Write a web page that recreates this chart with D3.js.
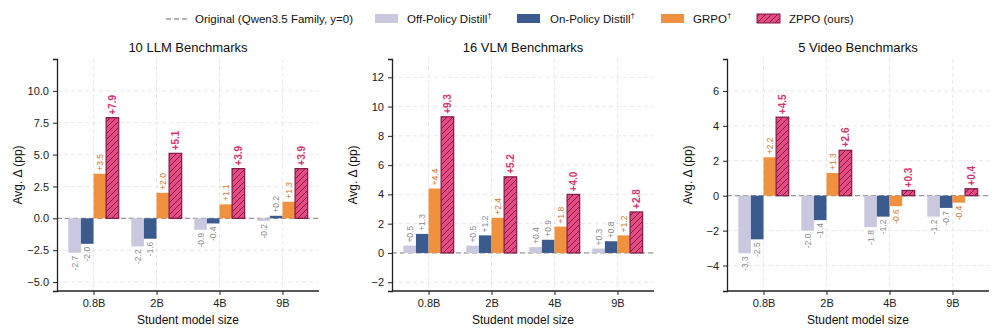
<!DOCTYPE html>
<html>
<head>
<meta charset="utf-8">
<script src="https://cdn.jsdelivr.net/npm/d3@7"></script>
<style>
  body { margin: 0; background: #fff; }
  svg { font-family: "Liberation Sans", Arial, sans-serif; }
</style>
</head>
<body>
<div id="chart"></div>
<script>
const sizes = ["0.8B", "2B", "4B", "9B"];
const seriesNames = ["Off-Policy Distill", "On-Policy Distill", "GRPO", "ZPPO (ours)"];

const llmOff = [-2.7, -2.2, -0.9, -0.2];
const llmOn = [-2.0, -1.6, -0.4, 0.2];
const llmGrpo = [3.5, 2.0, 1.1, 1.3];
const llmZppo = [7.9, 5.1, 3.9, 3.9];

const vlmOff = [0.5, 0.5, 0.4, 0.3];
const vlmOn = [1.3, 1.2, 0.9, 0.8];
const vlmGrpo = [4.4, 2.4, 1.8, 1.2];
const vlmZppo = [9.3, 5.2, 4.0, 2.8];

const vidOff = [-3.3, -2.0, -1.8, -1.2];
const vidOn = [-2.5, -1.4, -1.2, -0.7];
const vidGrpo = [2.2, 1.3, -0.6, -0.4];
const vidZppo = [4.5, 2.6, 0.3, 0.4];

const llmTicks = [-5, -2.5, 0, 2.5, 5, 7.5, 10];
const vlmTicks = [-2, 0, 2, 4, 6, 8, 10, 12];
const vidTicks = [-4, -2, 0, 2, 4, 6];

const panels = [
  { title: "10 LLM Benchmarks", data: [llmOff, llmOn, llmGrpo, llmZppo], ticks: llmTicks, fmt: d3.format(".1f"), dom: [-5.7, 12.5], left: 57 },
  { title: "16 VLM Benchmarks", data: [vlmOff, vlmOn, vlmGrpo, vlmZppo], ticks: vlmTicks, fmt: d3.format("d"), dom: [-2.6, 13.25], left: 392 },
  { title: "5 Video Benchmarks", data: [vidOff, vidOn, vidGrpo, vidZppo], ticks: vidTicks, fmt: d3.format("d"), dom: [-5.46, 7.83], left: 727 }
];

const colors = ["#c9c8de", "#3b5b8e", "#f09140", "#e84a82"];
const labelColors = ["#8a8a8a", "#8a8a8a", "#d2762e", "#d6336f"];

const W = 997, H = 335;
const svg = d3.select("#chart").append("svg").attr("width", W).attr("height", H);

const defs = svg.append("defs");
const pat = defs.append("pattern")
  .attr("id", "hatch")
  .attr("patternUnits", "userSpaceOnUse")
  .attr("width", 6).attr("height", 6);
pat.append("rect").attr("width", 6).attr("height", 6).attr("fill", colors[3]);
pat.append("path")
  .attr("d", "M-1,7 L7,-1 M-4,4 L4,-4 M2,10 L10,2")
  .attr("stroke", "#7a1d48").attr("stroke-width", 1);

const plotTop = 59, plotBottom = 291, pw = 262;

panels.forEach(p => {
  const g = svg.append("g");
  const x = d3.scaleLinear().domain([-0.58, 3.58]).range([p.left, p.left + pw]);
  const y = d3.scaleLinear().domain(p.dom).range([plotBottom, plotTop]);
  const bw = x(0.2) - x(0);

  // grid
  g.append("g").selectAll("line").data(p.ticks).join("line")
    .attr("x1", p.left).attr("x2", p.left + pw)
    .attr("y1", d => y(d)).attr("y2", d => y(d))
    .attr("stroke", "#e3e3e3").attr("stroke-dasharray", "4,3").attr("stroke-width", 0.8);
  g.append("g").selectAll("line").data(sizes).join("line")
    .attr("x1", (d, i) => x(i)).attr("x2", (d, i) => x(i))
    .attr("y1", plotTop).attr("y2", plotBottom)
    .attr("stroke", "#e3e3e3").attr("stroke-dasharray", "4,3").attr("stroke-width", 0.8);

  // zero line
  g.append("line")
    .attr("x1", p.left).attr("x2", p.left + pw)
    .attr("y1", y(0)).attr("y2", y(0))
    .attr("stroke", "#999").attr("stroke-dasharray", "5,3").attr("stroke-width", 1.2);

  p.data.forEach((vals, s) => {
    const off = (s - 1.5) * 0.2;
    g.append("g").selectAll("rect").data(vals).join("rect")
      .attr("x", (d, i) => x(i + off) - bw / 2)
      .attr("width", bw)
      .attr("y", d => y(Math.max(0, d)))
      .attr("height", d => Math.abs(y(d) - y(0)))
      .attr("fill", s === 3 ? "url(#hatch)" : colors[s])
      .attr("stroke", s === 3 ? "#7a1d48" : "none")
      .attr("stroke-width", s === 3 ? 1.2 : 0);

    g.append("g").selectAll("text").data(vals).join("text")
      .attr("transform", (d, i) => {
        const cx = x(i + off);
        const cy = d >= 0 ? y(d) - 3 : y(d) + 3;
        return `translate(${cx + (s === 3 ? 3.5 : 3)},${cy}) rotate(-90)`;
      })
      .attr("text-anchor", d => d >= 0 ? "start" : "end")
      .attr("font-size", s === 3 ? 10 : 8.5)
      .attr("font-weight", s === 3 ? "bold" : "normal")
      .attr("fill", labelColors[s])
      .text(d => (d >= 0 ? "+" : "") + d.toFixed(1));
  });

  // axes
  const ya = g.append("g").attr("transform", `translate(${p.left},0)`)
    .call(d3.axisLeft(y).tickValues(p.ticks).tickFormat(d => p.fmt(d).replace("-", "−")).tickSize(4).tickPadding(4));
  ya.select(".domain").attr("stroke", "#222").attr("stroke-width", 1.3);
  ya.selectAll(".tick line").attr("stroke", "#222");
  ya.selectAll(".tick text").attr("font-size", 11).attr("fill", "#222").attr("font-family", "Liberation Sans, Arial, sans-serif");

  const xa = g.append("g").attr("transform", `translate(0,${plotBottom})`)
    .call(d3.axisBottom(x).tickValues([0, 1, 2, 3]).tickFormat(i => sizes[i]).tickSize(4).tickPadding(4));
  xa.select(".domain").attr("stroke", "#222").attr("stroke-width", 1.3).attr("d", `M${p.left},0H${p.left + pw}`);
  xa.selectAll(".tick line").attr("stroke", "#222");
  xa.selectAll(".tick text").attr("font-size", 11).attr("fill", "#222").attr("font-family", "Liberation Sans, Arial, sans-serif");

  g.append("text")
    .attr("x", p.left + pw / 2).attr("y", 52)
    .attr("text-anchor", "middle").attr("font-size", 13).attr("fill", "#111")
    .text(p.title);
  g.append("text")
    .attr("x", p.left + pw / 2).attr("y", 324)
    .attr("text-anchor", "middle").attr("font-size", 12).attr("fill", "#111")
    .text("Student model size");
  g.append("text")
    .attr("transform", `translate(${p.left - 35},${(plotTop + plotBottom) / 2}) rotate(-90)`)
    .attr("text-anchor", "middle").attr("font-size", 12).attr("fill", "#111")
    .text("Avg. Δ (pp)");
});

// legend
const leg = svg.append("g").attr("font-size", 11.5).attr("fill", "#111");
const origText = leg.append("text").attr("x", 353).attr("y", 23).attr("text-anchor", "end")
  .text("Original (Qwen3.5 Family, y=0)");
const ob = origText.node().getBBox();
leg.append("line").attr("x1", ob.x - 29).attr("x2", ob.x - 6).attr("y1", 19).attr("y2", 19)
  .attr("stroke", "#999").attr("stroke-dasharray", "5,3").attr("stroke-width", 1.3);

const legItems = [
  { x: 375, tx: 407, name: seriesNames[0], dag: true },
  { x: 517, tx: 550, name: seriesNames[1], dag: true },
  { x: 661, tx: 693, name: seriesNames[2], dag: true },
  { x: 757, tx: 789, name: seriesNames[3], dag: false }
];
legItems.forEach((it, s) => {
  leg.append("rect").attr("x", it.x).attr("y", 14).attr("width", 23).attr("height", 9)
    .attr("fill", s === 3 ? "url(#hatch)" : colors[s])
    .attr("stroke", s === 3 ? "#7a1d48" : "none").attr("stroke-width", 1);
  const t = leg.append("text").attr("x", it.tx).attr("y", 23).text(it.name);
  if (it.dag) t.append("tspan").attr("dy", -5).attr("font-size", 8).text("†");
});
</script>
</body>
</html>
